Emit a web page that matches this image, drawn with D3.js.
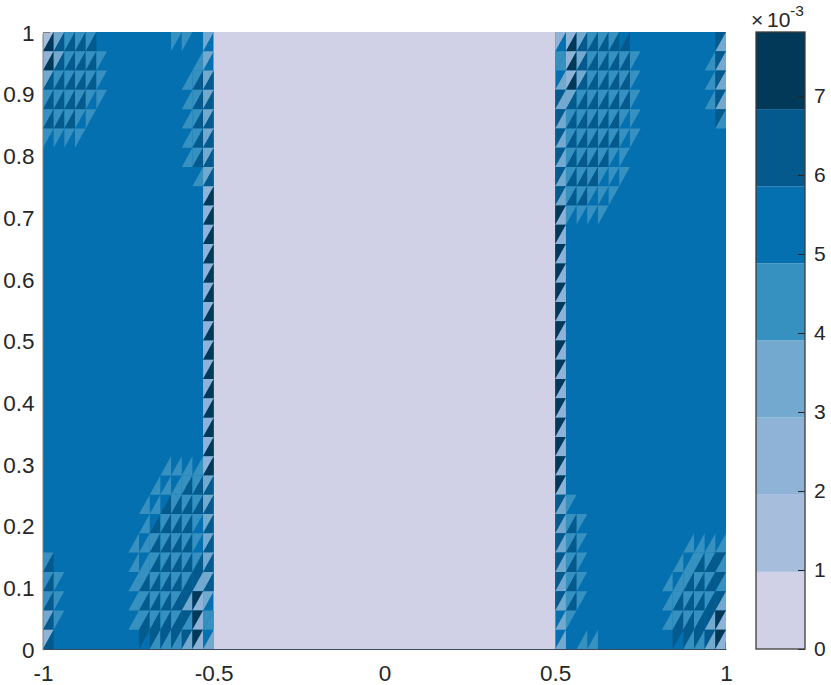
<!DOCTYPE html>
<html><head><meta charset="utf-8">
<script src="https://cdn.jsdelivr.net/npm/d3@7"></script>
<style>html,body{margin:0;background:#fff}svg{display:block}text{font-family:"Liberation Sans",Arial,sans-serif;fill:#262626}</style>
</head><body><svg id="c" width="831" height="685"></svg>
<script>
const xTicks=[-1,-0.5,0,0.5,1];
const yTicks=[0,0.1,0.2,0.3,0.4,0.5,0.6,0.7,0.8,0.9,1];
const barTicks=[0,1,2,3,4,5,6,7];
const barMax=7.81;
const levelColors=["#d0d1e6","#a6bddb","#8fb3d7","#74a9cf","#3690c0","#0570b0","#045a8d","#023858"];
const cellsPerUnit=32;
const centerLevel=0;
const flankLevel=5;
const bands=[{from:-1,to:-0.5,lv:flankLevel},{from:-0.5,to:0.5,lv:centerLevel},{from:0.5,to:1,lv:flankLevel}];
// contour level of each triangle, one string per mesh row from the top, one digit per cell
const leftUpper=[
"1344455555554453","2344445555555553","3444445555555543","4444445555555543",
"4444455555555543","4444555555555543","5555555555555543","5555555555555553",
"5555555555555552","5555555555555552","5555555555555552","5555555555555552",
"5555555555555552","5555555555555552","5555555555555552","5555555555555552",
"5555555555555552","5555555555555552","5555555555555552","5555555555555552",
"5555555555555552","5555555555555552","5555555555555552","5555555555555443",
"5555555555554443","5555555555544443","5555555555444443","4555555555444443",
"4455555554444463","4455555554444673","3455555554444674","2555555556666675"];
const leftLower=[
"7666655555555555","7666655555555545","6666655555555466","6666555555555466",
"6665555555555466","5555555555555466","5555555555555466","5555555555555546",
"5555555555555557","5555555555555557","5555555555555557","5555555555555557",
"5555555555555557","5555555555555557","5555555555555557","5555555555555557",
"5555555555555557","5555555555555557","5555555555555557","5555555555555557",
"5555555555555557","5555555555555557","5555555555544447","5555555555444666",
"5555555554466666","5555555554666656","5555555544666656","6555555544666666",
"6555555546666636","6555555546666325","6555555546666424","6555555555444323"];
const rightUpper=[
"2234445555555556","4234444455555556","5234444455555556","6344444455555556",
"6444444455555556","6444444455555555","6444444555555555","6444444555555555",
"6444445555555555","7444455555555555","7555555555555555","7555555555555555",
"7555555555555555","7555555555555555","7555555555555555","7555555555555555",
"7555555555555555","7555555555555555","7555555555555555","7555555555555555",
"7555555555555555","7555555555555555","7555555555555555","7555555555555555",
"6455555555555555","6445555555555555","6445555555555555","6445555555555446",
"6445555555554446","6445555555544446","5455555555544467","5555555555566667"];
const rightLower=[
"5766666555555553","4766666555555543","3766666555555543","3666666555555543",
"3666665555555554","3666665555555555","3666655555555555","3666555555555555",
"3665555555555555","2555555555555555","2555555555555555","2555555555555555",
"2555555555555555","2555555555555555","2555555555555555","2555555555555555",
"2555555555555555","2555555555555555","2555555555555555","2555555555555555",
"2555555555555555","2555555555555555","2555555555555555","2555555555555555",
"3555555555555555","3655555555555555","3655555555554444","3655555555544664",
"3655555555446664","3655555555466663","3555555555466632","3544555555554432"];

const L=43,R=726,T=32,B=649,BX0=756,BX1=805;
const svg=d3.select("#c");
const x=d3.scaleLinear().domain([-1,1]).range([L,R]);
const y=d3.scaleLinear().domain([0,1]).range([B,T]);
const color=d3.scaleOrdinal().domain(d3.range(levelColors.length)).range(levelColors);
const h=1/cellsPerUnit;

svg.append("g").selectAll("rect").data(bands).join("rect")
  .attr("x",d=>x(d.from)).attr("width",d=>x(d.to)-x(d.from))
  .attr("y",y(1)).attr("height",y(0)-y(1)).attr("fill",d=>color(d.lv));

const tris=[];
[[leftUpper,leftLower,0],[rightUpper,rightLower,48]].forEach(([up,lo,c0])=>{
  for(let r=0;r<cellsPerUnit;r++){
    for(let i=0;i<16;i++){
      const x0=-1+(c0+i)*h,x1=x0+h,y1=1-r*h,y0=y1-h;
      const u=+up[r][i],l=+lo[r][i];
      if(u!==flankLevel) tris.push({lv:u,pts:[[x0,y0],[x0,y1],[x1,y1]]});
      if(l!==flankLevel) tris.push({lv:l,pts:[[x0,y0],[x1,y1],[x1,y0]]});
    }
  }
});
const line=d3.line().x(d=>x(d[0])).y(d=>y(d[1]));
svg.append("g").selectAll("path").data(tris).join("path")
  .attr("d",d=>line(d.pts)+"Z").attr("fill",d=>color(d.lv));

const fs=22.5;
const fmt=d=>String(d);
const gx=svg.append("g").attr("transform",`translate(0,${B})`)
  .call(d3.axisBottom(x).tickValues(xTicks).tickSize(0).tickPadding(16).tickFormat(fmt));
gx.select(".domain").attr("stroke","#3a4a5a").attr("stroke-width",1);
gx.selectAll("text").attr("font-size",fs).attr("fill","#262626");
const gy=svg.append("g").attr("transform",`translate(${L-0.5},1)`)
  .call(d3.axisLeft(y).tickValues(yTicks).tickSize(0).tickPadding(8).tickFormat(fmt));
gy.select(".domain").attr("stroke","#808080").attr("stroke-width",1);
gy.selectAll("text").attr("font-size",fs).attr("fill","#262626");
svg.append("line").attr("x1",x(-1)).attr("x2",x(-1)+7).attr("y1",y(1)+.5).attr("y2",y(1)+.5).attr("stroke","#808080");
svg.append("line").attr("x1",x(1)-.5).attr("x2",x(1)-.5).attr("y1",y(0)-7).attr("y2",y(0)).attr("stroke","#808080");

// colour bar
const by=d3.scaleLinear().domain([0,barMax]).range([B,T]);
const step=barMax/levelColors.length;
svg.append("g").selectAll("rect").data(levelColors).join("rect")
  .attr("x",BX0).attr("width",BX1-BX0)
  .attr("y",(d,i)=>by((i+1)*step)).attr("height",(d,i)=>by(i*step)-by((i+1)*step))
  .attr("fill",d=>d);
const gb=svg.append("g").attr("transform",`translate(${BX1},0)`)
  .call(d3.axisRight(by).tickValues(barTicks).tickSizeInner(-7).tickSizeOuter(0).tickPadding(9).tickFormat(d3.format("d")));
gb.select(".domain").remove();
gb.selectAll("line").attr("stroke","#262626").attr("stroke-width",1);
gb.selectAll("text").attr("font-size",21).attr("fill","#262626");
svg.append("rect").attr("x",BX0).attr("y",T).attr("width",BX1-BX0).attr("height",B-T)
  .attr("fill","none").attr("stroke","#3c3c3c").attr("stroke-width",1.3);
svg.append("text").attr("x",751).attr("y",27).attr("font-size",21).text("×");
svg.append("text").attr("x",767).attr("y",27).attr("font-size",21).text("10");
svg.append("text").attr("x",790).attr("y",16).attr("font-size",15.5).text("-3");
</script></body></html>
